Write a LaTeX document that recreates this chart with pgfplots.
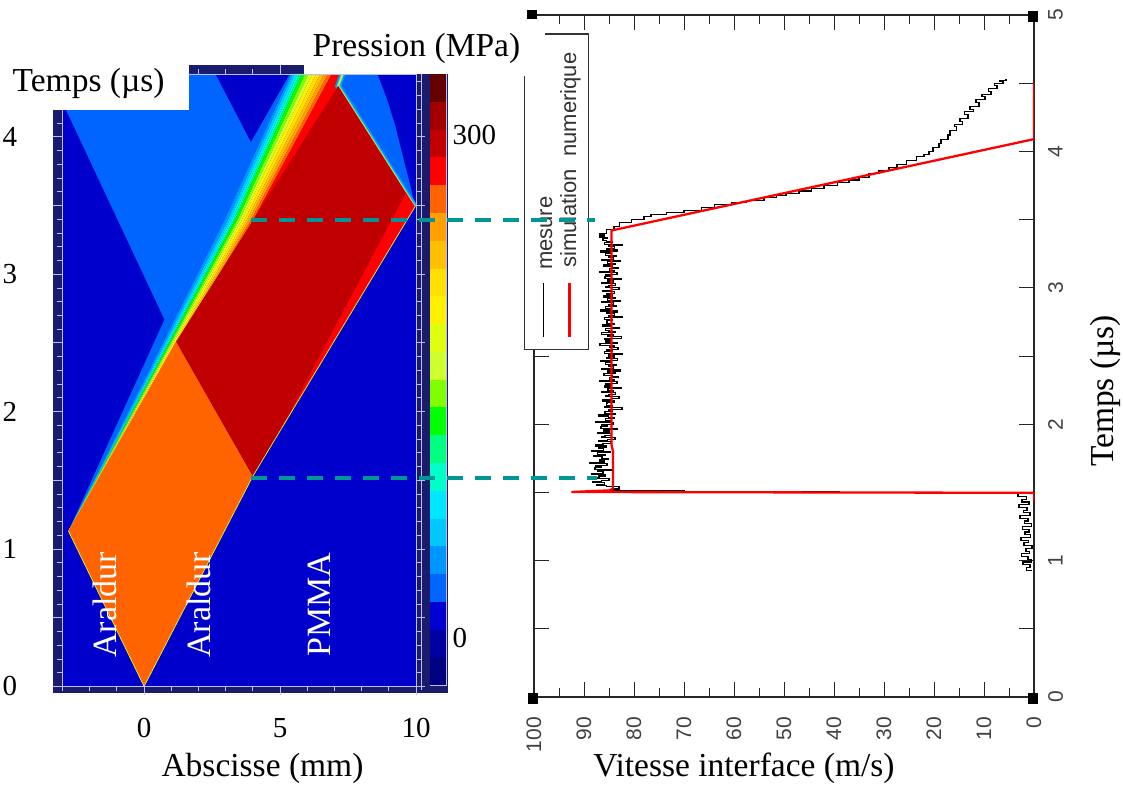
\documentclass[border=0pt]{standalone}
\usepackage{fontspec}
\setmainfont{Liberation Serif}
\newfontfamily\sansf{Liberation Sans}
\usepackage{pgfplots}
\usepackage{pgfplotstable}
\pgfplotsset{compat=1.18}
\definecolor{navyf}{RGB}{27,27,110}
\definecolor{lav}{RGB}{190,190,235}
\definecolor{bgblue}{RGB}{0,0,204}
\definecolor{lblue}{RGB}{0,100,255}
\definecolor{orng}{RGB}{255,100,0}
\definecolor{dred}{RGB}{192,0,0}
\definecolor{bred}{RGB}{255,0,0}
\definecolor{teal2}{RGB}{0,150,150}
\definecolor{cbA}{RGB}{100,0,0}
\definecolor{cbB}{RGB}{160,0,0}
\definecolor{cbC}{RGB}{192,0,0}
\definecolor{cbD}{RGB}{255,0,0}
\definecolor{cbE}{RGB}{255,100,0}
\definecolor{cbF}{RGB}{255,160,0}
\definecolor{cbG}{RGB}{255,192,0}
\definecolor{cbH}{RGB}{255,224,0}
\definecolor{cbI}{RGB}{255,240,0}
\definecolor{cbJ}{RGB}{224,255,16}
\definecolor{cbK}{RGB}{208,255,48}
\definecolor{cbL}{RGB}{128,255,0}
\definecolor{cbM}{RGB}{0,255,0}
\definecolor{cbN}{RGB}{0,255,128}
\definecolor{cbO}{RGB}{0,255,200}
\definecolor{cbP}{RGB}{0,230,255}
\definecolor{cbQ}{RGB}{0,200,255}
\definecolor{cbR}{RGB}{0,150,255}
\definecolor{cbS}{RGB}{0,100,255}
\definecolor{cbT}{RGB}{0,0,210}
\definecolor{cbU}{RGB}{0,0,160}
\definecolor{cbV}{RGB}{0,0,128}
\newcommand\lab{\fontsize{33.5}{38}\selectfont}
\newcommand\ticklab{\fontsize{29}{32}\selectfont}
\newcommand\rtick{\sansf\fontsize{21}{24}\selectfont}
\newcommand\legf{\sansf\fontsize{22}{26}\selectfont}

\pgfplotstableread{
v t
0.5 0.93
1.5 0.95
0.8 0.97
2.2 0.99
0.6 1.01
1.2 1.03
2.5 1.05
0.9 1.07
1.6 1.09
0.4 1.11
2.0 1.13
1.1 1.15
2.6 1.17
0.7 1.19
1.8 1.21
1.0 1.23
2.3 1.25
0.5 1.27
1.9 1.29
1.2 1.31
2.8 1.33
0.8 1.35
2.1 1.37
1.4 1.39
3.0 1.41
1.0 1.43
2.4 1.45
1.5 1.47
3.2 1.49
2.0 1.500
39.0 1.505
56.0 1.508
70.0 1.512
81.0 1.516
84.5 1.525
83.0 1.540
85.5 1.550
87.4 1.56
85.9 1.57
88.2 1.58
86.5 1.59
85.0 1.60
87.7 1.61
87.0 1.62
85.7 1.63
88.5 1.64
86.2 1.65
87.2 1.66
84.5 1.67
87.8 1.68
86.6 1.69
87.6 1.70
85.4 1.71
88.8 1.72
86.0 1.73
86.9 1.74
85.2 1.75
86.4 1.76
88.0 1.77
85.8 1.78
87.3 1.79
84.8 1.80
88.4 1.81
86.1 1.82
87.1 1.83
85.5 1.84
87.7 1.85
86.2 1.86
84.7 1.87
87.0 1.88
85.3 1.89
83.8 1.90
86.5 1.91
85.8 1.92
84.5 1.93
87.3 1.94
85.0 1.95
86.0 1.96
83.3 1.97
86.6 1.98
85.4 1.99
86.4 2.00
84.2 2.01
87.6 2.02
84.8 2.03
85.7 2.04
84.0 2.05
85.1 2.06
87.0 2.07
83.7 2.08
85.8 2.09
84.3 2.10
85.0 2.11
82.4 2.12
85.9 2.13
84.3 2.14
85.5 2.15
85.4 2.16
83.9 2.17
86.2 2.18
84.5 2.19
83.0 2.20
85.7 2.21
85.0 2.22
83.7 2.23
86.5 2.24
84.2 2.25
85.2 2.26
82.5 2.27
85.8 2.28
84.6 2.29
85.6 2.30
83.4 2.31
86.8 2.32
84.0 2.33
84.9 2.34
83.2 2.35
84.4 2.36
86.0 2.37
83.8 2.38
85.3 2.39
82.8 2.40
86.4 2.41
84.1 2.42
85.1 2.43
83.5 2.44
85.7 2.45
84.7 2.46
86.6 2.47
83.3 2.48
85.4 2.49
83.9 2.50
85.0 2.51
82.4 2.52
85.9 2.53
84.3 2.54
85.5 2.55
83.2 2.56
84.9 2.57
84.0 2.58
86.8 2.59
83.4 2.60
85.6 2.61
84.6 2.62
85.8 2.63
82.5 2.64
85.2 2.65
84.2 2.66
86.5 2.67
83.7 2.68
85.0 2.69
85.7 2.70
83.0 2.71
84.5 2.72
86.2 2.73
83.9 2.74
85.4 2.75
85.5 2.76
84.3 2.77
85.9 2.78
82.4 2.79
85.0 2.80
83.9 2.81
85.4 2.82
83.3 2.83
86.6 2.84
84.7 2.85
85.7 2.86
83.5 2.87
85.1 2.88
84.1 2.89
86.4 2.90
82.8 2.91
85.3 2.92
83.8 2.93
86.0 2.94
84.4 2.95
85.4 2.96
83.9 2.97
86.2 2.98
84.5 2.99
83.0 3.00
85.7 3.01
85.0 3.02
83.7 3.03
86.5 3.04
84.2 3.05
85.2 3.06
82.5 3.07
85.8 3.08
84.6 3.09
85.6 3.10
83.4 3.11
86.8 3.12
84.0 3.13
84.9 3.14
83.2 3.15
84.4 3.16
86.0 3.17
83.8 3.18
85.3 3.19
82.8 3.20
86.4 3.21
84.1 3.22
85.1 3.23
83.5 3.24
85.7 3.25
84.7 3.26
86.6 3.27
83.3 3.28
85.4 3.29
83.9 3.30
85.0 3.31
82.4 3.32
85.9 3.33
84.3 3.34
85.5 3.35
86.2 3.36
85.3 3.37
86.9 3.38
86.0 3.39
86.9 3.40
85.5 3.43
84.0 3.45
82.9 3.48
80.5 3.50
78.0 3.52
76.6 3.54
73.5 3.555
70.0 3.57
66.5 3.59
63.9 3.61
60.5 3.625
57.5 3.64
54.0 3.66
51.5 3.675
49.6 3.69
47.0 3.71
44.5 3.73
42.0 3.75
39.3 3.77
37.0 3.79
35.0 3.81
33.0 3.835
31.0 3.86
29.0 3.885
27.4 3.905
25.5 3.93
23.5 3.96
22.0 3.98
21.0 4.00
20.2 4.03
19.0 4.06
18.6 4.09
17.2 4.12
16.8 4.15
15.5 4.18
15.9 4.20
14.3 4.22
14.8 4.24
13.2 4.27
13.9 4.29
12.1 4.31
12.8 4.33
11.0 4.36
11.6 4.38
9.8 4.40
10.4 4.42
8.6 4.44
9.1 4.46
7.4 4.48
7.9 4.50
6.2 4.51
6.8 4.52
5.6 4.53
}\mesure

\pgfplotstableread{
v t
0 1.44
0 1.497
92.5 1.503
84.8 1.515
84.2 1.53
84.2 1.80
84.5 1.85
84.5 3.42
0 4.09
0 4.50
}\simul

\begin{document}
\begin{tikzpicture}[x=1pt,y=1pt]
\useasboundingbox (0,0) rectangle (1123,785);
% navy frame of the pressure map
\fill[navyf] (53,92) rectangle (448,720);

\begin{axis}[
  at={(62.5pt,98.6pt)}, anchor=south west, scale only axis,
  width=353.5pt, height=612.4pt,
  xmin=-3, xmax=10, ymin=0, ymax=4.457,
  axis background/.style={fill=bgblue},
  axis on top,
  axis line style={draw=lav, line width=0.8pt},
  tick style={draw=lav, line width=0.8pt},
  tick align=outside,
  major tick length=9pt, minor tick length=5pt,
  xtick={0,5,10}, minor xtick={-3,-2,...,10},
  ytick={0,0.5,...,4}, yticklabels={0,,1,,2,,3,,4},
  minor ytick={0,0.1,...,4.4},
  xticklabel style={anchor=center, yshift=-32.6pt, font=\ticklab},
  yticklabel style={anchor=center, xshift=-43.5pt, font=\ticklab},
  /pgf/number format/assume math mode=true,
]
% large reflected-wave region (light blue)
\addplot[fill=lblue, draw=none] coordinates {(-3,4.25) (-3,4.457) (2.62,4.457) (3.93,3.96) (5.36,4.457) (5.40,4.457) (2.95,3.39) (-2.78,1.13) (0.75,2.67)};
% light blue region on the right, top
\addplot[fill=lblue, draw=none] coordinates {(7.25,4.457) (8.58,4.457) (8.94,4.27) (9.25,4.07) (9.55,3.83) (9.80,3.64) (9.96,3.49) (7.14,4.37)};
% rainbow band of the compression wave
\addplot[fill=cbR, draw=none] coordinates {(-2.78,1.13) (2.95,3.39) (5.40,4.457) (5.47,4.457) (3.07,3.39)};
\addplot[fill=cbQ, draw=none] coordinates {(-2.78,1.13) (3.07,3.39) (5.47,4.457) (5.55,4.457) (3.15,3.39)};
\addplot[fill=cbP, draw=none] coordinates {(-2.78,1.13) (3.15,3.39) (5.55,4.457) (5.64,4.457) (3.22,3.39)};
\addplot[fill=cbO, draw=none] coordinates {(-2.78,1.13) (3.22,3.39) (5.64,4.457) (5.72,4.457) (3.28,3.39)};
\addplot[fill=cbN, draw=none] coordinates {(-2.78,1.13) (3.28,3.39) (5.72,4.457) (5.80,4.457) (3.33,3.39)};
\addplot[fill=cbM, draw=none] coordinates {(-2.78,1.13) (3.33,3.39) (5.80,4.457) (5.92,4.457) (3.42,3.39)};
\addplot[fill=cbL, draw=none] coordinates {(-2.78,1.13) (3.42,3.39) (5.92,4.457) (6.05,4.457) (3.50,3.39)};
\addplot[fill=cbK, draw=none] coordinates {(-2.78,1.13) (3.50,3.39) (6.05,4.457) (6.18,4.457) (3.58,3.39)};
\addplot[fill=cbI, draw=none] coordinates {(-2.78,1.13) (3.58,3.39) (6.18,4.457) (6.33,4.457) (3.68,3.39)};
\addplot[fill=cbH, draw=none] coordinates {(-2.78,1.13) (3.68,3.39) (6.33,4.457) (6.48,4.457) (3.76,3.39)};
\addplot[fill=cbG, draw=none] coordinates {(-2.78,1.13) (3.76,3.39) (6.48,4.457) (6.62,4.457) (3.84,3.39)};
\addplot[fill=cbF, draw=none] coordinates {(-2.78,1.13) (3.84,3.39) (6.62,4.457) (6.76,4.457) (3.92,3.39)};
\addplot[fill=cbE, draw=none] coordinates {(-2.78,1.13) (3.92,3.39) (6.76,4.457) (6.90,4.457) (4.00,3.39)};
\addplot[fill=cbD, draw=none] coordinates {(-2.78,1.13) (4.00,3.39) (6.90,4.457) (7.40,4.457) (4.30,3.39)};
% edge of the reflected wave
\addplot[draw=cbR, line width=6pt] coordinates {(9.96,3.49) (7.14,4.37) (7.30,4.457)};
\addplot[draw=cbP, line width=3pt] coordinates {(9.96,3.49) (7.14,4.37) (7.30,4.457)};
\addplot[draw=cbH, line width=1.5pt] coordinates {(9.96,3.49) (7.14,4.37) (7.30,4.457)};
% shocked Araldur (orange)
\addplot[fill=orng, draw=none] coordinates {(0,0) (-2.78,1.13) (1.18,2.51) (4.0,1.53)};
% doubly shocked region (dark red)
\addplot[fill=dred, draw=none] coordinates {(4.0,1.53) (9.96,3.49) (7.14,4.37) (1.18,2.51)};
% bright red sliver
\addplot[fill=bred, draw=none] coordinates {(9.63,3.59) (9.96,3.49) (5.0,1.86)};
% thin wave-front edges
\addplot[draw=cbK, line width=0.7pt] coordinates {(-2.78,1.13) (0,0) (4.0,1.53) (9.96,3.49)};
\coordinate (dA) at (axis cs:3.93,3.394);
\coordinate (dB) at (axis cs:3.93,1.517);
\end{axis}
\draw[lav, line width=0.8pt] (421.4,95) -- (421.4,713);

% colour bar
\begin{axis}[
  at={(430pt,99.6pt)}, anchor=south west, scale only axis,
  width=16.4pt, height=611.4pt,
  xmin=0, xmax=1, ymin=0, ymax=22,
  axis line style={draw=lav, line width=0.8pt},
  xtick=\empty, ytick={1.705,19.8}, yticklabels={0,300},
  yticklabel pos=right, major tick length=0pt,
  yticklabel style={anchor=west, inner sep=0pt, xshift=6pt, font=\ticklab},
]
\addplot[fill=cbV, draw=none] coordinates {(0,0) (1,0) (1,1) (0,1)};
\addplot[fill=cbU, draw=none] coordinates {(0,1) (1,1) (1,2) (0,2)};
\addplot[fill=cbT, draw=none] coordinates {(0,2) (1,2) (1,3) (0,3)};
\addplot[fill=cbS, draw=none] coordinates {(0,3) (1,3) (1,4) (0,4)};
\addplot[fill=cbR, draw=none] coordinates {(0,4) (1,4) (1,5) (0,5)};
\addplot[fill=cbQ, draw=none] coordinates {(0,5) (1,5) (1,6) (0,6)};
\addplot[fill=cbP, draw=none] coordinates {(0,6) (1,6) (1,7) (0,7)};
\addplot[fill=cbO, draw=none] coordinates {(0,7) (1,7) (1,8) (0,8)};
\addplot[fill=cbN, draw=none] coordinates {(0,8) (1,8) (1,9) (0,9)};
\addplot[fill=cbM, draw=none] coordinates {(0,9) (1,9) (1,10) (0,10)};
\addplot[fill=cbL, draw=none] coordinates {(0,10) (1,10) (1,11) (0,11)};
\addplot[fill=cbK, draw=none] coordinates {(0,11) (1,11) (1,12) (0,12)};
\addplot[fill=cbJ, draw=none] coordinates {(0,12) (1,12) (1,13) (0,13)};
\addplot[fill=cbI, draw=none] coordinates {(0,13) (1,13) (1,14) (0,14)};
\addplot[fill=cbH, draw=none] coordinates {(0,14) (1,14) (1,15) (0,15)};
\addplot[fill=cbG, draw=none] coordinates {(0,15) (1,15) (1,16) (0,16)};
\addplot[fill=cbF, draw=none] coordinates {(0,16) (1,16) (1,17) (0,17)};
\addplot[fill=cbE, draw=none] coordinates {(0,17) (1,17) (1,18) (0,18)};
\addplot[fill=cbD, draw=none] coordinates {(0,18) (1,18) (1,19) (0,19)};
\addplot[fill=cbC, draw=none] coordinates {(0,19) (1,19) (1,20) (0,20)};
\addplot[fill=cbB, draw=none] coordinates {(0,20) (1,20) (1,21) (0,21)};
\addplot[fill=cbA, draw=none] coordinates {(0,21) (1,21) (1,22) (0,22)};
\end{axis}

% white label boxes
\fill[white] (0,675) rectangle (188.6,785);
\fill[white] (303.6,711) rectangle (544.5,785);
\node[anchor=base west, inner sep=0] at (12.5,693) {\lab Temps (µs)};
\node[anchor=base west, inner sep=0] at (312.5,728.6) {\lab Pression (MPa)};

% velocity plot
\begin{axis}[
  at={(534pt,88pt)}, anchor=south west, scale only axis,
  width=500pt, height=682pt,
  xmin=0, xmax=100, x dir=reverse, ymin=0, ymax=5,
  axis line style={draw=black!85, line width=1.2pt},
  tick style={draw=black!85, line width=1pt},
  xtick={0,10,...,100}, minor xtick={5,15,...,95},
  major tick length=15pt, minor tick length=9pt,
  ytick={0,0.5,...,5}, yticklabels={0,,1,,2,,3,,4,,5},
  yticklabel pos=right,
  xticklabel style={yshift=-20pt, rotate=90, anchor=east, inner sep=0pt, font=\rtick, text=black!75},
  yticklabel style={xshift=14pt, rotate=90, anchor=north, inner sep=0pt, font=\rtick, text=black!75},
  /pgf/number format/assume math mode=true,
]
\addplot[black, line width=1.1pt, const plot] table[x=v, y=t] {\mesure};
\addplot[red, line width=2.3pt] table[x=v, y=t] {\simul};
\coordinate (eA) at (axis cs:87.8,3.5);
\coordinate (eB) at (axis cs:87.4,1.6);
\end{axis}

% corner markers
\fill[black] (528,81) rectangle (538,92);
\fill[black] (1028,81) rectangle (1038,92);
\fill[black] (527,766) rectangle (537,775);
\fill[black] (1028,763) rectangle (1038,774);

% legend
\draw[black!80, line width=1.2pt, fill=white] (524.6,435.7) rectangle (588.2,751);
\draw[black, line width=1pt] (543.7,448) -- (543.7,502);
\draw[red, line width=2.2pt] (569.5,448) -- (569.5,502);
\node[rotate=90, anchor=base west, inner sep=0, text=black!80] at (552,515) {\legf mesure};
\node[rotate=90, anchor=base west, inner sep=0, text=black!80] at (576,517) {\legf simulation\ \ numerique};
\fill[white] (521,709) rectangle (545,766);

% dashed connection lines
\draw[teal2, line width=4pt, dash pattern=on 16pt off 12pt] (dA) -- (dA -| eA);
\draw[teal2, line width=4pt, dash pattern=on 16pt off 12pt] (dB) -- (dB -| eB);

% material names
\node[rotate=90, anchor=base west, inner sep=0, text=white] at (116,127) {\fontsize{34}{38}\selectfont Araldur};
\node[rotate=90, anchor=base west, inner sep=0, text=white] at (210.7,127) {\fontsize{34}{38}\selectfont Araldur};
\node[rotate=90, anchor=base west, inner sep=0, text=white] at (330,128) {\fontsize{34}{38}\selectfont PMMA};

% axis titles
\node at (262.5,17) {\lab Abscisse (mm)};
\node at (744,17) {\lab Vitesse interface (m/s)};
\node[rotate=90] at (1105,394) {\lab Temps (µs)};
\end{tikzpicture}
\end{document}
